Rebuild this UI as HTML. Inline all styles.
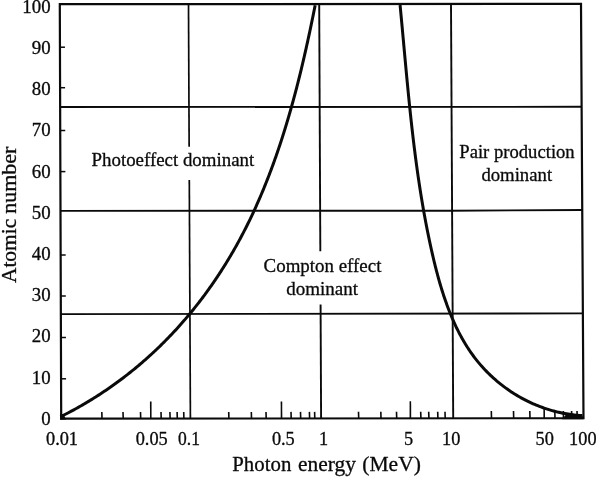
<!DOCTYPE html>
<html><head><meta charset="utf-8"><title>Photon interaction dominance</title>
<style>
html,body{margin:0;padding:0;background:#fff;}
body{width:596px;height:477px;overflow:hidden;font-family:"Liberation Serif",serif;}
svg{display:block;filter:grayscale(1);}
svg text{font-family:"Liberation Serif",serif;fill:#0a0a0a;stroke:#0a0a0a;stroke-width:0.3px;stroke-linejoin:round;}
</style></head><body>
<svg width="596" height="477" viewBox="0 0 596 477">
<rect width="596" height="477" fill="#ffffff"/>
<polygon points="59.8,4.2 581.0,3.8 583.5,418.2 61.2,418.7" fill="none" stroke="#0a0a0a" stroke-width="2.2" stroke-linejoin="miter"/>
<line x1="60.10" y1="107.00" x2="582.00" y2="106.80" stroke="#0a0a0a" stroke-width="1.9" stroke-linecap="butt"/>
<polyline points="60.5,210.9 250,210.75 450,210.7 582.5,209.95" fill="none" stroke="#0a0a0a" stroke-width="1.9"/>
<line x1="61.00" y1="314.10" x2="583.10" y2="313.40" stroke="#0a0a0a" stroke-width="1.9" stroke-linecap="butt"/>
<line x1="188.50" y1="4.30" x2="189.15" y2="146.80" stroke="#0a0a0a" stroke-width="1.7" stroke-linecap="butt"/>
<line x1="189.30" y1="179.90" x2="190.40" y2="418.80" stroke="#0a0a0a" stroke-width="1.7" stroke-linecap="butt"/>
<line x1="319.20" y1="4.30" x2="320.33" y2="251.30" stroke="#0a0a0a" stroke-width="1.9" stroke-linecap="butt"/>
<line x1="320.58" y1="304.60" x2="321.10" y2="418.60" stroke="#0a0a0a" stroke-width="1.9" stroke-linecap="butt"/>
<line x1="451.00" y1="4.00" x2="453.20" y2="418.50" stroke="#0a0a0a" stroke-width="1.9" stroke-linecap="butt"/>
<line x1="102.00" y1="418.66" x2="101.81" y2="412.06" stroke="#0a0a0a" stroke-width="1.6" stroke-linecap="butt"/>
<line x1="123.20" y1="418.64" x2="123.01" y2="412.04" stroke="#0a0a0a" stroke-width="1.6" stroke-linecap="butt"/>
<line x1="140.70" y1="418.62" x2="140.50" y2="412.02" stroke="#0a0a0a" stroke-width="1.6" stroke-linecap="butt"/>
<line x1="161.20" y1="418.60" x2="161.00" y2="412.00" stroke="#0a0a0a" stroke-width="1.6" stroke-linecap="butt"/>
<line x1="170.10" y1="418.60" x2="169.91" y2="412.00" stroke="#0a0a0a" stroke-width="1.6" stroke-linecap="butt"/>
<line x1="177.30" y1="418.59" x2="177.11" y2="411.99" stroke="#0a0a0a" stroke-width="1.6" stroke-linecap="butt"/>
<line x1="183.90" y1="418.58" x2="183.71" y2="411.98" stroke="#0a0a0a" stroke-width="1.6" stroke-linecap="butt"/>
<line x1="228.90" y1="418.54" x2="228.71" y2="411.94" stroke="#0a0a0a" stroke-width="1.6" stroke-linecap="butt"/>
<line x1="251.50" y1="418.52" x2="251.31" y2="411.92" stroke="#0a0a0a" stroke-width="1.6" stroke-linecap="butt"/>
<line x1="266.20" y1="418.50" x2="266.00" y2="411.90" stroke="#0a0a0a" stroke-width="1.6" stroke-linecap="butt"/>
<line x1="291.20" y1="418.48" x2="291.00" y2="411.88" stroke="#0a0a0a" stroke-width="1.6" stroke-linecap="butt"/>
<line x1="300.70" y1="418.47" x2="300.50" y2="411.87" stroke="#0a0a0a" stroke-width="1.6" stroke-linecap="butt"/>
<line x1="309.60" y1="418.46" x2="309.41" y2="411.86" stroke="#0a0a0a" stroke-width="1.6" stroke-linecap="butt"/>
<line x1="314.80" y1="418.46" x2="314.61" y2="411.86" stroke="#0a0a0a" stroke-width="1.6" stroke-linecap="butt"/>
<line x1="358.70" y1="418.42" x2="358.50" y2="411.82" stroke="#0a0a0a" stroke-width="1.6" stroke-linecap="butt"/>
<line x1="381.00" y1="418.39" x2="380.81" y2="411.79" stroke="#0a0a0a" stroke-width="1.6" stroke-linecap="butt"/>
<line x1="396.70" y1="418.38" x2="396.50" y2="411.78" stroke="#0a0a0a" stroke-width="1.6" stroke-linecap="butt"/>
<line x1="420.90" y1="418.36" x2="420.70" y2="411.76" stroke="#0a0a0a" stroke-width="1.6" stroke-linecap="butt"/>
<line x1="428.90" y1="418.35" x2="428.70" y2="411.75" stroke="#0a0a0a" stroke-width="1.6" stroke-linecap="butt"/>
<line x1="437.90" y1="418.34" x2="437.70" y2="411.74" stroke="#0a0a0a" stroke-width="1.6" stroke-linecap="butt"/>
<line x1="445.20" y1="418.33" x2="445.00" y2="411.73" stroke="#0a0a0a" stroke-width="1.6" stroke-linecap="butt"/>
<line x1="491.50" y1="418.29" x2="491.31" y2="411.09" stroke="#0a0a0a" stroke-width="1.6" stroke-linecap="butt"/>
<line x1="513.70" y1="418.27" x2="513.50" y2="411.07" stroke="#0a0a0a" stroke-width="1.6" stroke-linecap="butt"/>
<line x1="530.00" y1="418.25" x2="529.80" y2="411.05" stroke="#0a0a0a" stroke-width="1.6" stroke-linecap="butt"/>
<line x1="555.00" y1="418.23" x2="554.80" y2="411.03" stroke="#0a0a0a" stroke-width="1.6" stroke-linecap="butt"/>
<line x1="563.50" y1="418.22" x2="563.30" y2="411.02" stroke="#0a0a0a" stroke-width="1.6" stroke-linecap="butt"/>
<line x1="571.80" y1="418.21" x2="571.60" y2="411.01" stroke="#0a0a0a" stroke-width="1.6" stroke-linecap="butt"/>
<line x1="577.20" y1="418.21" x2="577.00" y2="411.01" stroke="#0a0a0a" stroke-width="1.6" stroke-linecap="butt"/>
<line x1="150.80" y1="418.61" x2="150.75" y2="401.61" stroke="#0a0a0a" stroke-width="1.6" stroke-linecap="butt"/>
<line x1="281.50" y1="418.49" x2="281.45" y2="401.49" stroke="#0a0a0a" stroke-width="1.6" stroke-linecap="butt"/>
<line x1="410.40" y1="418.37" x2="410.35" y2="401.37" stroke="#0a0a0a" stroke-width="1.6" stroke-linecap="butt"/>
<line x1="544.20" y1="418.24" x2="544.15" y2="407.24" stroke="#0a0a0a" stroke-width="1.6" stroke-linecap="butt"/>
<line x1="59.95" y1="47.20" x2="64.95" y2="47.20" stroke="#0a0a0a" stroke-width="1.5" stroke-linecap="butt"/>
<line x1="60.08" y1="87.70" x2="65.08" y2="87.70" stroke="#0a0a0a" stroke-width="1.5" stroke-linecap="butt"/>
<line x1="60.23" y1="130.50" x2="65.23" y2="130.50" stroke="#0a0a0a" stroke-width="1.5" stroke-linecap="butt"/>
<line x1="60.37" y1="171.60" x2="65.37" y2="171.60" stroke="#0a0a0a" stroke-width="1.5" stroke-linecap="butt"/>
<line x1="60.65" y1="255.00" x2="65.65" y2="255.00" stroke="#0a0a0a" stroke-width="1.5" stroke-linecap="butt"/>
<line x1="60.79" y1="296.00" x2="65.79" y2="296.00" stroke="#0a0a0a" stroke-width="1.5" stroke-linecap="butt"/>
<line x1="60.93" y1="337.50" x2="65.93" y2="337.50" stroke="#0a0a0a" stroke-width="1.5" stroke-linecap="butt"/>
<line x1="61.07" y1="378.80" x2="66.07" y2="378.80" stroke="#0a0a0a" stroke-width="1.5" stroke-linecap="butt"/>
<path d="M60.43,416.79 L61.93,416.05 L63.43,415.29 L64.92,414.53 L66.41,413.77 L67.89,413.00 L69.37,412.22 L70.86,411.43 L72.35,410.64 L73.83,409.83 L75.31,409.02 L76.78,408.21 L78.25,407.39 L79.72,406.56 L81.19,405.72 L82.67,404.87 L84.13,404.01 L85.60,403.15 L87.06,402.28 L88.51,401.41 L89.96,400.53 L91.41,399.64 L92.85,398.75 L94.29,397.85 L95.72,396.95 L97.15,396.04 L98.57,395.12 L99.99,394.20 L101.43,393.26 L102.85,392.32 L104.28,391.36 L105.69,390.41 L107.11,389.44 L108.52,388.48 L109.92,387.50 L111.32,386.52 L112.72,385.53 L114.11,384.54 L115.49,383.54 L116.87,382.54 L118.24,381.54 L119.61,380.53 L120.97,379.51 L122.33,378.48 L123.69,377.46 L125.04,376.42 L126.38,375.38 L127.72,374.34 L129.05,373.28 L130.38,372.23 L131.70,371.17 L133.01,370.11 L134.32,369.05 L135.62,367.98 L136.92,366.90 L138.21,365.82 L139.50,364.73 L140.78,363.64 L142.04,362.56 L143.29,361.47 L144.54,360.38 L145.79,359.29 L147.03,358.19 L148.26,357.08 L149.49,355.97 L150.72,354.86 L151.93,353.74 L153.14,352.62 L154.35,351.50 L155.55,350.37 L156.74,349.24 L157.93,348.10 L159.12,346.96 L160.30,345.81 L161.46,344.67 L162.62,343.52 L163.78,342.38 L164.93,341.22 L166.07,340.06 L167.21,338.90 L168.35,337.74 L169.48,336.57 L170.61,335.39 L171.73,334.20 L172.86,333.01 L173.97,331.81 L175.09,330.61 L176.20,329.41 L177.30,328.20 L178.40,326.99 L179.49,325.77 L180.58,324.55 L181.66,323.32 L182.74,322.10 L183.82,320.86 L184.89,319.62 L185.96,318.37 L187.04,317.10 L188.11,315.84 L189.17,314.57 L190.23,313.29 L191.28,312.02 L192.33,310.73 L193.37,309.45 L194.41,308.16 L197.58,304.15 L198.61,302.83 L199.64,301.50 L200.66,300.16 L201.68,298.82 L202.70,297.48 L203.71,296.13 L204.71,294.78 L205.71,293.42 L206.70,292.06 L207.69,290.70 L208.67,289.34 L209.64,287.99 L210.59,286.64 L211.54,285.28 L212.49,283.92 L213.43,282.56 L214.37,281.20 L215.30,279.83 L216.23,278.46 L217.15,277.08 L218.07,275.70 L218.98,274.32 L219.88,272.94 L220.78,271.56 L221.67,270.17 L222.56,268.79 L223.44,267.40 L224.31,266.01 L225.18,264.61 L226.05,263.22 L226.91,261.81 L227.77,260.41 L228.62,259.00 L229.46,257.59 L230.30,256.18 L231.14,254.76 L231.97,253.34 L232.80,251.91 L233.62,250.49 L234.44,249.06 L235.25,247.62 L236.06,246.18 L236.87,244.74 L237.67,243.30 L238.46,241.85 L239.25,240.40 L240.04,238.95 L240.82,237.49 L241.59,236.03 L242.36,234.57 L243.13,233.10 L243.89,231.63 L244.64,230.16 L245.40,228.69 L246.14,227.21 L246.89,225.73 L247.62,224.25 L248.36,222.77 L249.08,221.28 L249.81,219.79 L250.53,218.30 L251.24,216.80 L251.95,215.30 L252.66,213.80 L253.36,212.30 L254.06,210.79 L254.75,209.28 L255.44,207.77 L256.12,206.26 L256.81,204.74 L257.49,203.21 L258.16,201.68 L258.83,200.15 L259.50,198.61 L260.16,197.07 L260.83,195.52 L261.48,193.97 L262.14,192.42 L262.79,190.87 L263.43,189.31 L264.07,187.75 L264.71,186.19 L265.34,184.63 L265.97,183.06 L266.59,181.49 L267.21,179.92 L267.83,178.35 L268.44,176.78 L269.05,175.20 L269.65,173.62 L270.25,172.04 L270.85,170.46 L271.44,168.88 L272.03,167.30 L272.61,165.71 L273.19,164.12 L273.77,162.53 L274.34,160.94 L274.91,159.34 L275.48,157.75 L276.04,156.15 L276.59,154.55 L277.15,152.95 L277.70,151.35 L278.25,149.75 L278.79,148.14 L279.33,146.53 L279.87,144.93 L280.40,143.32 L280.93,141.71 L281.45,140.09 L281.98,138.48 L282.49,136.87 L283.01,135.25 L283.52,133.63 L284.03,132.02 L284.53,130.40 L285.04,128.78 L285.53,127.16 L286.03,125.53 L286.52,123.91 L287.01,122.29 L287.50,120.66 L287.98,119.03 L288.46,117.41 L288.93,115.78 L289.40,114.15 L289.87,112.52 L290.34,110.89 L290.80,109.26 L291.26,107.63 L291.72,106.00 L292.18,104.37 L292.63,102.73 L293.08,101.10 L293.52,99.47 L293.96,97.83 L294.40,96.20 L294.84,94.56 L295.27,92.93 L295.71,91.29 L296.13,89.66 L296.56,88.02 L296.98,86.39 L297.40,84.75 L297.82,83.11 L298.24,81.48 L298.65,79.84 L299.06,78.20 L299.46,76.57 L299.87,74.93 L300.27,73.30 L300.67,71.66 L301.07,70.03 L301.46,68.39 L301.85,66.76 L302.24,65.12 L302.63,63.49 L303.01,61.85 L303.40,60.22 L303.78,58.59 L304.15,56.96 L304.53,55.32 L304.90,53.69 L305.27,52.06 L305.64,50.43 L306.01,48.80 L306.37,47.18 L306.73,45.55 L307.09,43.92 L307.45,42.30 L307.81,40.67 L308.16,39.05 L308.51,37.43 L308.86,35.81 L309.21,34.18 L309.56,32.57 L309.90,30.95 L310.24,29.33 L310.58,27.72 L310.92,26.10 L311.26,24.49 L311.59,22.88 L311.93,21.27 L312.26,19.66 L312.59,18.05 L312.91,16.45 L313.24,14.84 L313.56,13.24 L313.89,11.64 L314.21,10.04 L314.53,8.44 L314.84,6.85 L315.16,5.25" fill="none" stroke="#0a0a0a" stroke-width="3.0" stroke-linejoin="round"/>
<path d="M400.08,5.01 L400.23,6.60 L400.38,8.19 L400.53,9.78 L400.68,11.37 L400.83,12.96 L400.98,14.56 L401.13,16.15 L401.28,17.75 L401.43,19.35 L401.58,20.95 L401.73,22.55 L401.88,24.15 L402.03,25.75 L402.18,27.36 L402.32,28.96 L402.47,30.57 L402.62,32.18 L402.77,33.79 L402.92,35.40 L403.06,37.01 L403.21,38.62 L403.36,40.23 L403.51,41.85 L403.65,43.46 L403.80,45.08 L403.95,46.70 L404.10,48.32 L404.24,49.93 L404.39,51.55 L404.54,53.17 L404.69,54.80 L404.84,56.42 L404.99,58.04 L405.14,59.67 L405.29,61.29 L405.44,62.92 L405.59,64.54 L405.74,66.17 L405.89,67.79 L406.04,69.42 L406.19,71.05 L406.34,72.68 L406.50,74.31 L406.65,75.94 L406.80,77.57 L406.96,79.20 L407.11,80.83 L407.27,82.46 L407.43,84.10 L407.58,85.73 L407.74,87.37 L407.90,89.01 L408.06,90.65 L408.22,92.29 L408.38,93.93 L408.55,95.57 L408.71,97.21 L408.87,98.85 L409.04,100.49 L409.20,102.14 L409.37,103.78 L409.54,105.42 L409.71,107.06 L409.88,108.70 L410.05,110.34 L410.22,111.98 L410.39,113.62 L410.57,115.26 L410.74,116.90 L410.92,118.54 L411.10,120.18 L411.28,121.82 L411.46,123.46 L411.64,125.10 L411.82,126.75 L412.01,128.39 L412.19,130.03 L412.38,131.67 L412.57,133.31 L412.76,134.95 L412.95,136.60 L413.15,138.24 L413.34,139.89 L413.54,141.53 L413.74,143.18 L413.94,144.83 L414.14,146.47 L414.34,148.12 L414.55,149.77 L414.76,151.41 L414.97,153.06 L415.18,154.71 L415.39,156.35 L415.60,158.00 L415.82,159.64 L416.04,161.29 L416.26,162.93 L416.48,164.58 L416.71,166.22 L416.93,167.87 L417.16,169.51 L417.39,171.16 L417.62,172.80 L417.86,174.44 L418.09,176.09 L418.33,177.73 L418.57,179.37 L418.82,181.01 L419.06,182.65 L419.31,184.29 L419.56,185.93 L419.81,187.57 L420.07,189.22 L420.33,190.86 L420.59,192.50 L420.85,194.14 L421.11,195.78 L421.38,197.42 L421.65,199.06 L421.92,200.70 L422.20,202.34 L422.47,203.98 L422.75,205.61 L423.04,207.25 L423.32,208.89 L423.61,210.52 L423.90,212.16 L424.19,213.79 L424.49,215.42 L424.79,217.05 L425.09,218.68 L425.39,220.30 L425.70,221.93 L426.01,223.55 L426.32,225.18 L426.63,226.80 L426.95,228.42 L427.27,230.05 L427.59,231.67 L427.92,233.29 L428.25,234.91 L428.58,236.53 L428.92,238.15 L429.26,239.77 L429.60,241.38 L429.94,243.00 L430.29,244.62 L430.64,246.23 L431.00,247.85 L431.35,249.46 L431.72,251.07 L432.08,252.69 L432.45,254.30 L432.82,255.91 L433.19,257.52 L433.57,259.13 L433.96,260.74 L434.34,262.34 L434.74,263.94 L435.13,265.54 L435.53,267.13 L435.93,268.72 L436.34,270.32 L436.76,271.90 L437.18,273.49 L437.60,275.07 L438.03,276.66 L438.47,278.23 L438.91,279.81 L439.35,281.39 L439.81,282.96 L440.26,284.53 L440.73,286.09 L441.20,287.66 L441.68,289.22 L442.16,290.77 L442.66,292.33 L443.16,293.88 L443.66,295.43 L444.18,296.98 L444.70,298.52 L445.22,300.06 L445.76,301.59 L446.30,303.12 L446.86,304.65 L447.42,306.17 L447.98,307.69 L448.56,309.21 L449.15,310.72 L449.74,312.23 L450.34,313.73 L450.96,315.23 L451.58,316.73 L452.21,318.22 L452.85,319.71 L453.51,321.19 L454.17,322.67 L454.84,324.14 L455.52,325.60 L456.21,327.06 L456.91,328.51 L457.62,329.96 L458.35,331.39 L459.08,332.82 L459.82,334.24 L460.58,335.66 L461.34,337.06 L462.12,338.46 L462.90,339.85 L463.70,341.23 L464.51,342.60 L465.33,343.96 L466.17,345.33 L467.03,346.69 L467.91,348.05 L468.79,349.40 L469.69,350.74 L470.60,352.08 L471.53,353.40 L472.46,354.71 L473.42,356.01 L474.38,357.30 L475.36,358.59 L476.36,359.86 L477.37,361.12 L478.39,362.37 L479.44,363.62 L480.49,364.85 L481.57,366.09 L482.67,367.31 L483.78,368.52 L484.90,369.72 L486.04,370.91 L487.20,372.09 L488.37,373.27 L489.56,374.43 L490.77,375.58 L491.99,376.72 L493.21,377.84 L494.41,378.91 L495.63,379.97 L496.86,381.03 L498.11,382.07 L499.37,383.11 L500.65,384.13 L501.94,385.14 L503.24,386.14 L504.56,387.13 L505.90,388.10 L507.24,389.07 L508.61,390.02 L509.98,390.96 L511.37,391.88 L512.74,392.77 L514.12,393.65 L515.51,394.51 L516.91,395.36 L518.32,396.19 L519.75,397.01 L521.18,397.82 L522.62,398.61 L524.07,399.38 L525.53,400.14 L527.03,400.89 L528.55,401.63 L530.08,402.36 L531.61,403.07 L533.15,403.76 L534.70,404.43 L536.25,405.08 L537.81,405.72 L539.38,406.33 L540.95,406.93 L542.53,407.51 L544.11,408.07 L545.70,408.60 L547.28,409.12 L548.88,409.63 L550.47,410.11 L552.07,410.57 L553.67,411.01 L555.27,411.43 L556.87,411.84 L558.47,412.22 L560.08,412.58 L561.68,412.93 L563.28,413.25 L564.88,413.55 L566.48,413.84 L568.08,414.10 L569.68,414.35 L571.27,414.57 L572.86,414.78 L574.44,414.96 L576.02,415.13 L577.60,415.28 L579.16,415.41 L580.73,415.52 L582.29,415.61" fill="none" stroke="#0a0a0a" stroke-width="3.0" stroke-linejoin="round"/>
<polygon points="60.2,413.5 63.5,414.2 66,419.6 60.2,419.8" fill="#0a0a0a"/>
<polygon points="566,414.5 582.5,415.6 583.5,419.2 562,419.3" fill="#0a0a0a"/>
<text x="50.6" y="12.8" font-size="18.0" text-anchor="end" textLength="28.27" lengthAdjust="spacingAndGlyphs">100</text>
<text x="50.6" y="54.01" font-size="18.0" text-anchor="end" textLength="18.85" lengthAdjust="spacingAndGlyphs">90</text>
<text x="50.6" y="95.22" font-size="18.0" text-anchor="end" textLength="18.85" lengthAdjust="spacingAndGlyphs">80</text>
<text x="50.6" y="136.43" font-size="18.0" text-anchor="end" textLength="18.85" lengthAdjust="spacingAndGlyphs">70</text>
<text x="50.6" y="177.64000000000001" font-size="18.0" text-anchor="end" textLength="18.85" lengthAdjust="spacingAndGlyphs">60</text>
<text x="50.6" y="218.85000000000002" font-size="18.0" text-anchor="end" textLength="18.85" lengthAdjust="spacingAndGlyphs">50</text>
<text x="50.6" y="260.06" font-size="18.0" text-anchor="end" textLength="18.85" lengthAdjust="spacingAndGlyphs">40</text>
<text x="50.6" y="301.27000000000004" font-size="18.0" text-anchor="end" textLength="18.85" lengthAdjust="spacingAndGlyphs">30</text>
<text x="50.6" y="342.48" font-size="18.0" text-anchor="end" textLength="18.85" lengthAdjust="spacingAndGlyphs">20</text>
<text x="50.6" y="383.69" font-size="18.0" text-anchor="end" textLength="18.85" lengthAdjust="spacingAndGlyphs">10</text>
<text x="50.6" y="424.90000000000003" font-size="18.0" text-anchor="end" textLength="9.42" lengthAdjust="spacingAndGlyphs">0</text>
<text x="46.0" y="444.5" font-size="18.0" text-anchor="start" textLength="32.02" lengthAdjust="spacingAndGlyphs">0.01</text>
<text x="135.7" y="444.5" font-size="18.0" text-anchor="start" textLength="32.02" lengthAdjust="spacingAndGlyphs">0.05</text>
<text x="178.0" y="444.5" font-size="18.0" text-anchor="start" textLength="21.88" lengthAdjust="spacingAndGlyphs">0.1</text>
<text x="271.9" y="444.5" font-size="18.0" text-anchor="start" textLength="22.88" lengthAdjust="spacingAndGlyphs">0.5</text>
<text x="319.1" y="444.5" font-size="18.0" text-anchor="start" textLength="9.15" lengthAdjust="spacingAndGlyphs">1</text>
<text x="403.9" y="444.5" font-size="18.0" text-anchor="start" textLength="9.15" lengthAdjust="spacingAndGlyphs">5</text>
<text x="442.1" y="444.5" font-size="18.0" text-anchor="start" textLength="18.3" lengthAdjust="spacingAndGlyphs">10</text>
<text x="535.5" y="444.5" font-size="18.0" text-anchor="start" textLength="18.3" lengthAdjust="spacingAndGlyphs">50</text>
<text x="569.1" y="444.5" font-size="18.0" text-anchor="start" textLength="27.45" lengthAdjust="spacingAndGlyphs">100</text>
<text x="232.3" y="471.2" font-size="20.6" text-anchor="start" textLength="59.0" lengthAdjust="spacingAndGlyphs">Photon</text>
<text x="298.0" y="471.2" font-size="20.6" text-anchor="start" textLength="57.9" lengthAdjust="spacingAndGlyphs">energy</text>
<text x="362.3" y="471.2" font-size="20.6" text-anchor="start" textLength="58.6" lengthAdjust="spacingAndGlyphs">(MeV)</text>
<text transform="translate(15.5,283.1) rotate(-90)" font-size="21" textLength="64.4" lengthAdjust="spacingAndGlyphs">Atomic</text>
<text transform="translate(15.5,213.8) rotate(-90)" font-size="21" textLength="67.2" lengthAdjust="spacingAndGlyphs">number</text>
<text x="91.6" y="165.7" font-size="19" text-anchor="start" textLength="162.6" lengthAdjust="spacingAndGlyphs">Photoeffect dominant</text>
<text x="263.6" y="272.1" font-size="19" text-anchor="start" textLength="117.8" lengthAdjust="spacingAndGlyphs">Compton effect</text>
<text x="286.2" y="294.7" font-size="19" text-anchor="start" textLength="71.8" lengthAdjust="spacingAndGlyphs">dominant</text>
<text x="459.3" y="158.1" font-size="19" text-anchor="start" textLength="115.4" lengthAdjust="spacingAndGlyphs">Pair production</text>
<text x="481.4" y="180.8" font-size="19.3" text-anchor="start" textLength="70.7" lengthAdjust="spacingAndGlyphs">dominant</text>
</svg>
</body></html>
